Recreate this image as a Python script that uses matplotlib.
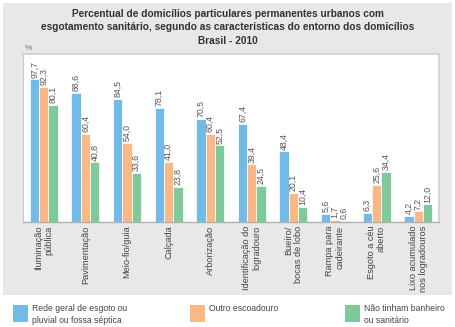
import matplotlib
matplotlib.use("Agg")
import matplotlib.pyplot as plt
from matplotlib.patches import Rectangle
import numpy as np

plt.rcParams['font.family'] = ['Liberation Sans', 'DejaVu Sans']

categories = ["Iluminação\npública", "Pavimentação", "Meio-fio/guia", "Calçada",
              "Arborização", "Identificação do\nlogradouro", "Bueiro/\nbocas de lobo",
              "Rampa para\ncadeirante", "Esgoto a céu\naberto", "Lixo acumulado\nnos logradouros"]
rede = [97.7, 88.6, 84.5, 78.1, 70.5, 67.4, 48.4, 5.6, 6.3, 4.2]
outro = [92.3, 60.4, 54.0, 41.0, 60.4, 39.4, 20.1, 1.7, 25.6, 7.2]
nao = [80.1, 40.8, 33.6, 23.8, 52.5, 24.5, 10.4, 0.6, 34.4, 12.0]
series_names = ["Rede geral de esgoto ou\npluvial ou fossa séptica", "Outro escoadouro",
                "Não tinham banheiro\nou sanitário"]
colors = ["#72bbe8", "#f9b886", "#80c99a"]
title = ("Percentual de domicílios particulares permanentes urbanos com\n"
         "esgotamento sanitário, segundo as características do entorno dos domicílios\n"
         "Brasil - 2010")

W, H = 455, 327
fig = plt.figure(figsize=(W/100, H/100), dpi=100)
fig.patch.set_facecolor("white")

def fx(px): return px / W
def fy(py): return 1 - py / H

# gray panel
fig.patches.append(Rectangle((fx(3), fy(295)), fx(452) - fx(3), fy(3) - fy(295),
                             transform=fig.transFigure, facecolor="#e8e8e8",
                             edgecolor="none", zorder=-5))

ax = fig.add_axes([fx(23), fy(222), fx(439) - fx(23), fy(54) - fy(222)])
ax.set_zorder(2)
ax.set_facecolor("white")
x = np.arange(len(categories))
bw = 0.225
for k, (vals, c) in enumerate(zip([rede, outro, nao], colors)):
    pos = x + (k - 1) * bw
    ax.bar(pos, vals, width=bw, color=c, edgecolor="white", linewidth=0.5, zorder=2)
    for p, v in zip(pos, vals):
        ax.text(p, v + 1.2, f"{v:.1f}".replace(".", ","), rotation=90, ha="center",
                va="bottom", fontsize=6.3, color="#555555")

ax.set_xlim(-0.5, len(categories) - 0.5)
ax.set_ylim(0, 115)
ax.set_yticks([])
ax.set_xticks([])
for s in ["top", "right"]:
    ax.spines[s].set_color("#d0d0d0")
    ax.spines[s].set_linewidth(1.2)
ax.spines["left"].set_color("#c8c8c8")
ax.spines["bottom"].set_color("#b0b0b0")
ax.spines["bottom"].set_linewidth(1.0)

for xi, cat in zip(x, categories):
    ax.text(xi, -2.5, cat, rotation=90, ha="center", va="top", multialignment="right",
            fontsize=6.6, color="#444444", linespacing=1.15)

fig.text(0.5, fy(9), title, ha="center", va="top", fontsize=7.3, fontweight="bold",
         color="#333333", linespacing=1.42)
fig.text(fx(25), fy(48), "%", fontsize=6, color="#777777", ha="left", va="center")

# legend
leg_x = [13, 190, 345]
for lx, name, c in zip(leg_x, series_names, colors):
    fig.patches.append(Rectangle((fx(lx), fy(322)), fx(15), fy(305) - fy(322),
                                 transform=fig.transFigure, facecolor=c, edgecolor="none"))
    fig.text(fx(lx + 19), fy(304), name, ha="left", va="top", fontsize=6.2,
             color="#444444", linespacing=1.4)

fig.savefig("out.png", dpi=100, facecolor="white")
